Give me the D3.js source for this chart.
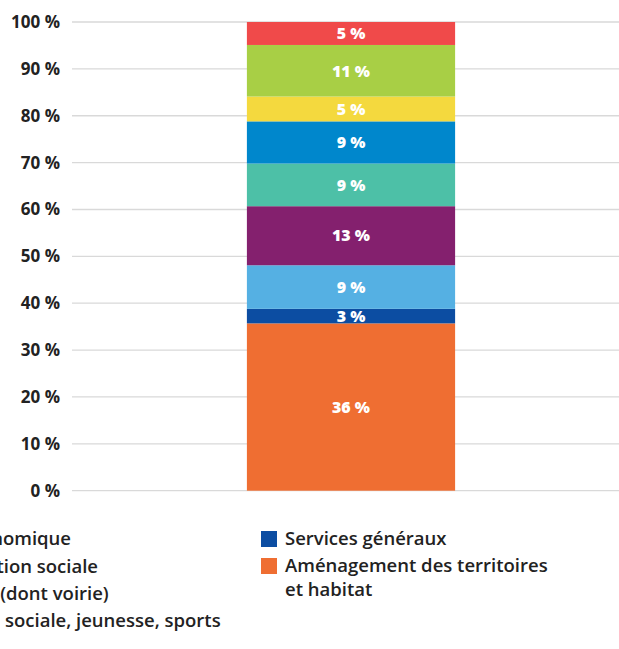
<!DOCTYPE html>
<html>
<head>
<meta charset="utf-8">
<script src="https://cdn.jsdelivr.net/npm/d3@7"></script>
<style>
  body { margin: 0; background: #fff; }
  svg { display: block; font-family: "Open Sans", sans-serif; }
</style>
</head>
<body>
<div id="chart"></div>
<script>
// stacked shares, bottom to top
const categories = [
  "Aménagement des territoires et habitat",
  "Services généraux",
  "Sécurité",
  "Enseignement, formation",
  "Santé et action sociale",
  "Culture, vie sociale, jeunesse, sports",
  "Environnement",
  "Transports (dont voirie)",
  "Action économique"
];
const values = [35.7, 3.1, 9.3, 12.6, 9.1, 9.0, 5.3, 11.0, 4.9];
const labels = ["36 %", "3 %", "9 %", "13 %", "9 %", "9 %", "5 %", "11 %", "5 %"];
const colors = ["#EF6E32", "#0C4DA2", "#55B0E3", "#84206E", "#4DC0A7", "#0087CC", "#F4D93E", "#A8CF45", "#F04A4A"];
const yTicks = [0, 10, 20, 30, 40, 50, 60, 70, 80, 90, 100];

// legend columns (left one is cut by the frame)
const legendLeft = ["Action économique", "Santé et action sociale", "Transports (dont voirie)", "Culture, vie sociale, jeunesse, sports"];
const legendRight = ["Services généraux", "Aménagement des territoires et habitat"];

const W = 619, H = 649;
const svg = d3.select("#chart").append("svg")
  .attr("width", W)
  .attr("height", H);

const y = d3.scaleLinear().domain([0, 100]).range([490.7, 22]);
const x = d3.scaleBand().domain(["total"]).range([72, 630]).paddingInner(0.5).paddingOuter(0.42);

// grid + tick labels
const ticks = svg.append("g");
ticks.selectAll("line").data(yTicks).enter().append("line")
  .attr("x1", 72).attr("x2", W)
  .attr("y1", d => y(d)).attr("y2", d => y(d))
  .attr("stroke", "#d9d9d9").attr("stroke-width", 1.3);
ticks.selectAll("text").data(yTicks).enter().append("text")
  .attr("x", 60).attr("y", d => y(d))
  .attr("dy", "0.35em")
  .attr("text-anchor", "end")
  .attr("font-size", 17).attr("font-weight", 700).attr("fill", "#222")
  .text(d => d + " %");

// stack
let acc = 0;
const segs = values.map((v, i) => {
  const s = { y0: acc, y1: acc + v, color: colors[i], label: labels[i], name: categories[i] };
  acc += v;
  return s;
});

const bar = svg.append("g");
bar.selectAll("rect").data(segs).enter().append("rect")
  .attr("x", x("total"))
  .attr("width", x.bandwidth())
  .attr("y", d => y(d.y1))
  .attr("height", d => y(d.y0) - y(d.y1))
  .attr("fill", d => d.color);
bar.selectAll("text").data(segs).enter().append("text")
  .attr("x", x("total") + x.bandwidth() / 2)
  .attr("y", d => (y(d.y0) + y(d.y1)) / 2)
  .attr("dy", "0.36em")
  .attr("text-anchor", "middle")
  .attr("font-size", 16).attr("font-weight", 800).attr("fill", "#fff")
  .text(d => d.label);

// legend
const colorOf = n => colors[categories.indexOf(n)];
const fs = 18.5;

// right column
const rg = svg.append("g");
let ry = 539;
legendRight.forEach(function(n) {
  rg.append("rect").attr("x", 261).attr("y", ry - 8).attr("width", 16).attr("height", 16).attr("fill", colorOf(n));
  let lines = n == "Aménagement des territoires et habitat" ? ["Aménagement des territoires", "et habitat"] : [n];
  lines.forEach(function(l, j) {
    rg.append("text").attr("x", 285).attr("y", ry + j * 24).attr("dy", "0.35em")
      .attr("font-size", fs).attr("font-weight", 600).attr("fill", "#222").text(l);
  });
  ry += 27;
});

// left column: placed so "sociale" of the last entry starts near x=5
// (trailing space is collapsed in svg, so measure up to the "s" and take it off)
const lg = svg.append("g");
const probe = lg.append("text").attr("font-size", fs).attr("font-weight", 600).text("Culture, vie s");
const withS = probe.node().getComputedTextLength();
probe.text("s");
const lx = 5 - (withS - probe.node().getComputedTextLength());
probe.remove();
legendLeft.forEach(function(n, i) {
  lg.append("rect").attr("x", lx - 24).attr("y", 539 + i * 27.3 - 8).attr("width", 16).attr("height", 16).attr("fill", colorOf(n));
  lg.append("text").attr("x", lx).attr("y", 539 + i * 27.3).attr("dy", "0.35em")
    .attr("font-size", fs).attr("font-weight", 600).attr("fill", "#222").text(n);
});
</script>
</body>
</html>
